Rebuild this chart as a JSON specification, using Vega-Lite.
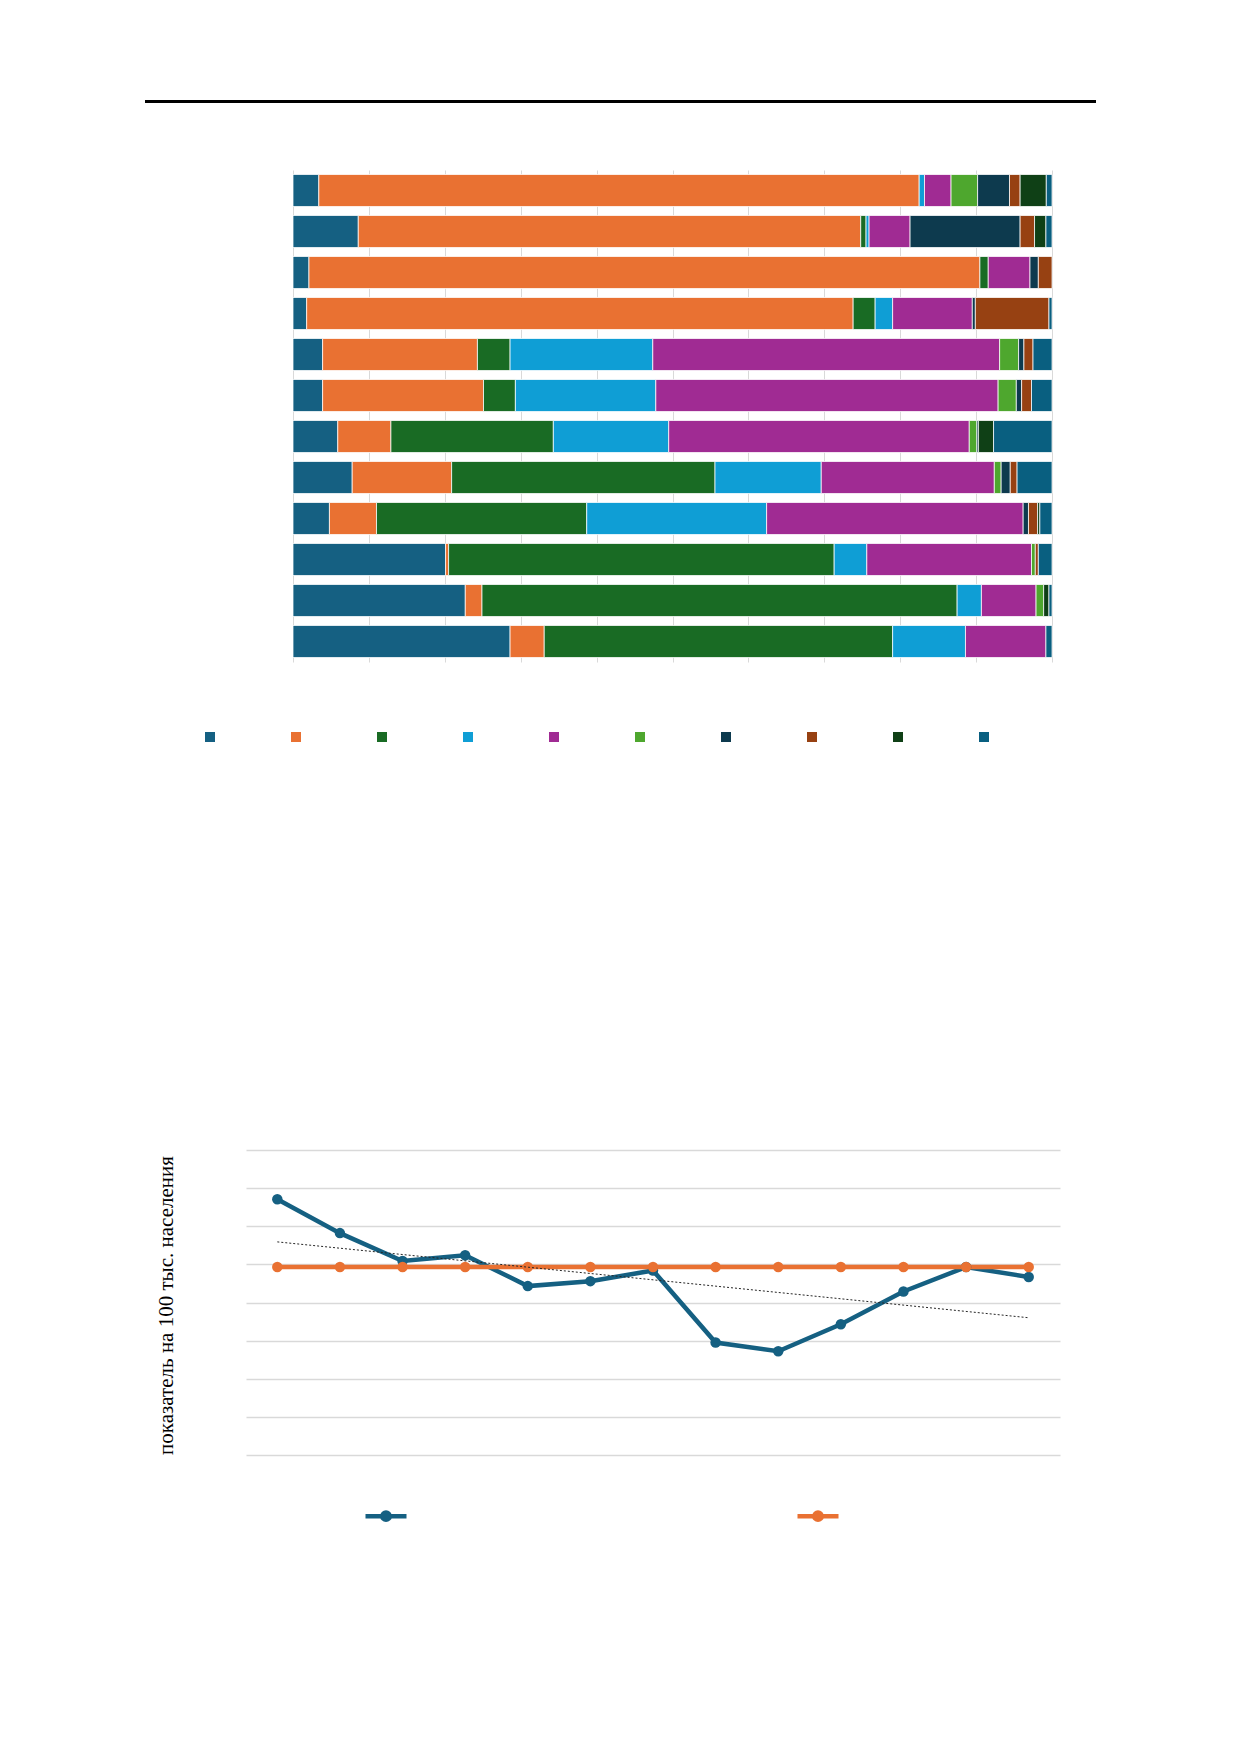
{
  "$schema": "https://vega.github.io/schema/vega-lite/v6.json",
  "background": "white",
  "padding": {"left": 145, "top": 100, "right": 0, "bottom": 0},
  "config": {
    "view": {"stroke": null},
    "axis": {"gridColor": "#d9d9d9", "gridWidth": 1}
  },
  "datasets": {
    "bars": [
      {"row": 1, "k": 1, "cat": "Категория 1", "share": 3.4},
      {"row": 1, "k": 2, "cat": "Категория 2", "share": 79.1},
      {"row": 1, "k": 4, "cat": "Категория 4", "share": 0.7},
      {"row": 1, "k": 5, "cat": "Категория 5", "share": 3.5},
      {"row": 1, "k": 6, "cat": "Категория 6", "share": 3.5},
      {"row": 1, "k": 7, "cat": "Категория 7", "share": 4.2},
      {"row": 1, "k": 8, "cat": "Категория 8", "share": 1.4},
      {"row": 1, "k": 9, "cat": "Категория 9", "share": 3.45},
      {"row": 1, "k": 10, "cat": "Категория 10", "share": 0.75},

      {"row": 2, "k": 1, "cat": "Категория 1", "share": 8.6},
      {"row": 2, "k": 2, "cat": "Категория 2", "share": 66.2},
      {"row": 2, "k": 3, "cat": "Категория 3", "share": 0.7},
      {"row": 2, "k": 4, "cat": "Категория 4", "share": 0.4},
      {"row": 2, "k": 5, "cat": "Категория 5", "share": 5.4},
      {"row": 2, "k": 7, "cat": "Категория 7", "share": 14.5},
      {"row": 2, "k": 8, "cat": "Категория 8", "share": 1.9},
      {"row": 2, "k": 9, "cat": "Категория 9", "share": 1.5},
      {"row": 2, "k": 10, "cat": "Категория 10", "share": 0.8},

      {"row": 3, "k": 1, "cat": "Категория 1", "share": 2.1},
      {"row": 3, "k": 2, "cat": "Категория 2", "share": 88.4},
      {"row": 3, "k": 3, "cat": "Категория 3", "share": 1.1},
      {"row": 3, "k": 5, "cat": "Категория 5", "share": 5.5},
      {"row": 3, "k": 7, "cat": "Категория 7", "share": 1.1},
      {"row": 3, "k": 8, "cat": "Категория 8", "share": 1.8},

      {"row": 4, "k": 1, "cat": "Категория 1", "share": 1.8},
      {"row": 4, "k": 2, "cat": "Категория 2", "share": 72.0},
      {"row": 4, "k": 3, "cat": "Категория 3", "share": 2.9},
      {"row": 4, "k": 4, "cat": "Категория 4", "share": 2.3},
      {"row": 4, "k": 5, "cat": "Категория 5", "share": 10.5},
      {"row": 4, "k": 7, "cat": "Категория 7", "share": 0.4},
      {"row": 4, "k": 8, "cat": "Категория 8", "share": 9.7},
      {"row": 4, "k": 10, "cat": "Категория 10", "share": 0.4},

      {"row": 5, "k": 1, "cat": "Категория 1", "share": 3.9},
      {"row": 5, "k": 2, "cat": "Категория 2", "share": 20.4},
      {"row": 5, "k": 3, "cat": "Категория 3", "share": 4.3},
      {"row": 5, "k": 4, "cat": "Категория 4", "share": 18.8},
      {"row": 5, "k": 5, "cat": "Категория 5", "share": 45.7},
      {"row": 5, "k": 6, "cat": "Категория 6", "share": 2.5},
      {"row": 5, "k": 7, "cat": "Категория 7", "share": 0.7},
      {"row": 5, "k": 8, "cat": "Категория 8", "share": 1.2},
      {"row": 5, "k": 10, "cat": "Категория 10", "share": 2.5},

      {"row": 6, "k": 1, "cat": "Категория 1", "share": 3.9},
      {"row": 6, "k": 2, "cat": "Категория 2", "share": 21.2},
      {"row": 6, "k": 3, "cat": "Категория 3", "share": 4.2},
      {"row": 6, "k": 4, "cat": "Категория 4", "share": 18.5},
      {"row": 6, "k": 5, "cat": "Категория 5", "share": 45.1},
      {"row": 6, "k": 6, "cat": "Категория 6", "share": 2.4},
      {"row": 6, "k": 7, "cat": "Категория 7", "share": 0.7},
      {"row": 6, "k": 8, "cat": "Категория 8", "share": 1.3},
      {"row": 6, "k": 10, "cat": "Категория 10", "share": 2.7},

      {"row": 7, "k": 1, "cat": "Категория 1", "share": 5.9},
      {"row": 7, "k": 2, "cat": "Категория 2", "share": 7.0},
      {"row": 7, "k": 3, "cat": "Категория 3", "share": 21.4},
      {"row": 7, "k": 4, "cat": "Категория 4", "share": 15.2},
      {"row": 7, "k": 5, "cat": "Категория 5", "share": 39.6},
      {"row": 7, "k": 6, "cat": "Категория 6", "share": 1.0},
      {"row": 7, "k": 7, "cat": "Категория 7", "share": 0.2},
      {"row": 7, "k": 9, "cat": "Категория 9", "share": 2.0},
      {"row": 7, "k": 10, "cat": "Категория 10", "share": 7.7},

      {"row": 8, "k": 1, "cat": "Категория 1", "share": 7.8},
      {"row": 8, "k": 2, "cat": "Категория 2", "share": 13.1},
      {"row": 8, "k": 3, "cat": "Категория 3", "share": 34.7},
      {"row": 8, "k": 4, "cat": "Категория 4", "share": 14.0},
      {"row": 8, "k": 5, "cat": "Категория 5", "share": 22.8},
      {"row": 8, "k": 6, "cat": "Категория 6", "share": 0.9},
      {"row": 8, "k": 7, "cat": "Категория 7", "share": 1.2},
      {"row": 8, "k": 8, "cat": "Категория 8", "share": 0.9},
      {"row": 8, "k": 10, "cat": "Категория 10", "share": 4.6},

      {"row": 9, "k": 1, "cat": "Категория 1", "share": 4.8},
      {"row": 9, "k": 2, "cat": "Категория 2", "share": 6.2},
      {"row": 9, "k": 3, "cat": "Категория 3", "share": 27.7},
      {"row": 9, "k": 4, "cat": "Категория 4", "share": 23.7},
      {"row": 9, "k": 5, "cat": "Категория 5", "share": 33.8},
      {"row": 9, "k": 7, "cat": "Категория 7", "share": 0.7},
      {"row": 9, "k": 8, "cat": "Категория 8", "share": 1.2},
      {"row": 9, "k": 9, "cat": "Категория 9", "share": 0.3},
      {"row": 9, "k": 10, "cat": "Категория 10", "share": 1.6},

      {"row": 10, "k": 1, "cat": "Категория 1", "share": 20.1},
      {"row": 10, "k": 2, "cat": "Категория 2", "share": 0.4},
      {"row": 10, "k": 3, "cat": "Категория 3", "share": 50.8},
      {"row": 10, "k": 4, "cat": "Категория 4", "share": 4.3},
      {"row": 10, "k": 5, "cat": "Категория 5", "share": 21.7},
      {"row": 10, "k": 6, "cat": "Категория 6", "share": 0.5},
      {"row": 10, "k": 8, "cat": "Категория 8", "share": 0.4},
      {"row": 10, "k": 10, "cat": "Категория 10", "share": 1.8},

      {"row": 11, "k": 1, "cat": "Категория 1", "share": 22.7},
      {"row": 11, "k": 2, "cat": "Категория 2", "share": 2.2},
      {"row": 11, "k": 3, "cat": "Категория 3", "share": 62.6},
      {"row": 11, "k": 4, "cat": "Категория 4", "share": 3.2},
      {"row": 11, "k": 5, "cat": "Категория 5", "share": 7.2},
      {"row": 11, "k": 6, "cat": "Категория 6", "share": 1.0},
      {"row": 11, "k": 9, "cat": "Категория 9", "share": 0.7},
      {"row": 11, "k": 10, "cat": "Категория 10", "share": 0.4},

      {"row": 12, "k": 1, "cat": "Категория 1", "share": 28.6},
      {"row": 12, "k": 2, "cat": "Категория 2", "share": 4.5},
      {"row": 12, "k": 3, "cat": "Категория 3", "share": 45.9},
      {"row": 12, "k": 4, "cat": "Категория 4", "share": 9.6},
      {"row": 12, "k": 5, "cat": "Категория 5", "share": 10.6},
      {"row": 12, "k": 10, "cat": "Категория 10", "share": 0.8}
    ],
    "lines": [
      {"t": 1, "series": "Регион", "value": 6.71},
      {"t": 2, "series": "Регион", "value": 5.82},
      {"t": 3, "series": "Регион", "value": 5.09},
      {"t": 4, "series": "Регион", "value": 5.24},
      {"t": 5, "series": "Регион", "value": 4.43},
      {"t": 6, "series": "Регион", "value": 4.56},
      {"t": 7, "series": "Регион", "value": 4.84},
      {"t": 8, "series": "Регион", "value": 2.95},
      {"t": 9, "series": "Регион", "value": 2.72},
      {"t": 10, "series": "Регион", "value": 3.43},
      {"t": 11, "series": "Регион", "value": 4.29},
      {"t": 12, "series": "Регион", "value": 4.93},
      {"t": 13, "series": "Регион", "value": 4.67},
      {"t": 1, "series": "Среднее", "value": 4.93},
      {"t": 2, "series": "Среднее", "value": 4.93},
      {"t": 3, "series": "Среднее", "value": 4.93},
      {"t": 4, "series": "Среднее", "value": 4.93},
      {"t": 5, "series": "Среднее", "value": 4.93},
      {"t": 6, "series": "Среднее", "value": 4.93},
      {"t": 7, "series": "Среднее", "value": 4.93},
      {"t": 8, "series": "Среднее", "value": 4.93},
      {"t": 9, "series": "Среднее", "value": 4.93},
      {"t": 10, "series": "Среднее", "value": 4.93},
      {"t": 11, "series": "Среднее", "value": 4.93},
      {"t": 12, "series": "Среднее", "value": 4.93},
      {"t": 13, "series": "Среднее", "value": 4.93}
    ],
    "trend": [
      {"t": 1, "value": 5.59},
      {"t": 13, "value": 3.6}
    ]
  },
  "resolve": {
    "scale": {"color": "independent"},
    "legend": {"color": "independent"}
  },
  "spacing": 408,
  "vconcat": [
    {
      "spacing": 67,
      "resolve": {
        "scale": {"color": "independent"},
        "legend": {"color": "independent"}
      },
      "vconcat": [
        {
          "data": {"values": [{"part": "rule"}]},
          "width": 951,
          "height": 3,
          "mark": {"type": "rect", "color": "black"}
        },
        {
          "spacing": 0,
          "resolve": {
            "scale": {"color": "independent"},
            "legend": {"color": "independent"}
          },
          "hconcat": [
            {
              "data": {"values": []},
              "width": 60,
              "height": 1,
              "mark": "rect"
            },
            {
              "data": {"name": "bars"},
              "width": 759,
              "height": 492,
              "mark": {"type": "bar", "stroke": "white", "strokeWidth": 0.75},
              "encoding": {
                "y": {
                  "field": "row", "type": "ordinal",
                  "scale": {"paddingInner": 0.22, "paddingOuter": 0.11},
                  "axis": null
                },
                "x": {
                  "field": "share", "type": "quantitative", "stack": "zero",
                  "scale": {"domain": [0, 100], "nice": false},
                  "axis": {"values": [0, 10, 20, 30, 40, 50, 60, 70, 80, 90, 100], "labels": false, "ticks": false, "domain": false, "title": null, "grid": true}
                },
                "color": {
                  "field": "cat", "type": "nominal",
                  "scale": {
                    "domain": ["Категория 1", "Категория 2", "Категория 3", "Категория 4", "Категория 5", "Категория 6", "Категория 7", "Категория 8", "Категория 9", "Категория 10"],
                    "range": ["#156082", "#e97132", "#196b24", "#0f9ed5", "#a02b93", "#4ea72e", "#0d3a4e", "#974112", "#0f4016", "#095f80"]
                  },
                  "legend": {
                    "orient": "none", "legendX": -88, "legendY": 562,
                    "direction": "horizontal", "columns": 10,
                    "symbolType": "square", "symbolSize": 100, "symbolStrokeWidth": 0,
                    "labelExpr": "''", "labelOffset": 0, "columnPadding": 76,
                    "title": null, "padding": 0
                  }
                },
                "order": {"field": "k", "type": "quantitative"}
              }
            }
          ]
        }
      ]
    },
    {
      "spacing": 0,
      "resolve": {
        "scale": {"color": "independent"},
        "legend": {"color": "independent"}
      },
      "hconcat": [
        {
          "data": {"values": []},
          "width": 10,
          "height": 1,
          "mark": "rect"
        },
        {
          "width": 814,
          "height": 305,
          "encoding": {
            "x": {"field": "t", "type": "ordinal", "scale": {"type": "point", "padding": 0.5}, "axis": null},
            "y": {
              "field": "value", "type": "quantitative",
              "scale": {"domain": [0, 8], "nice": false},
              "axis": {
                "values": [0, 1, 2, 3, 4, 5, 6, 7, 8],
                "labels": false, "ticks": false, "domain": false, "grid": true, "gridWidth": 1.3,
                "title": "показатель на 100 тыс. населения",
                "titleFont": "Liberation Serif", "titleFontSize": 21, "titleFontWeight": "normal", "titleColor": "black",
                "titleX": -80, "titleY": 155, "titleBaseline": "middle",
                "minExtent": 91, "maxExtent": 91
              }
            }
          },
          "layer": [
            {
              "data": {"name": "lines"},
              "mark": {"type": "line", "strokeWidth": 4.5},
              "encoding": {
                "color": {
                  "field": "series", "type": "nominal",
                  "scale": {"domain": ["Регион", "Среднее"], "range": ["#156082", "#e97132"]},
                  "legend": {
                    "orient": "none", "legendX": 117, "legendY": 343,
                    "direction": "horizontal", "columns": 2,
                    "symbolType": "M-1,0L1,0M0.18,0A0.18,0.18,0,1,1,-0.18,0A0.18,0.18,0,1,1,0.18,0Z",
                    "symbolSize": 1681, "symbolStrokeWidth": 4.5,
                    "labelExpr": "''", "labelOffset": 0, "columnPadding": 372,
                    "title": null, "padding": 0,
                    "encode": {
                      "symbols": {
                        "update": {
                          "fill": {"signal": "datum.value === 'Регион' ? '#156082' : '#e97132'"},
                          "stroke": {"signal": "datum.value === 'Регион' ? '#156082' : '#e97132'"},
                          "opacity": {"value": 1}
                        }
                      }
                    }
                  }
                }
              }
            },
            {
              "data": {"name": "lines"},
              "mark": {"type": "point", "filled": true, "size": 110, "opacity": 1},
              "encoding": {
                "color": {"field": "series", "type": "nominal"}
              }
            },
            {
              "data": {"name": "trend"},
              "mark": {"type": "line", "color": "#262626", "strokeWidth": 1, "strokeDash": [2, 2]}
            }
          ]
        }
      ]
    }
  ]
}
